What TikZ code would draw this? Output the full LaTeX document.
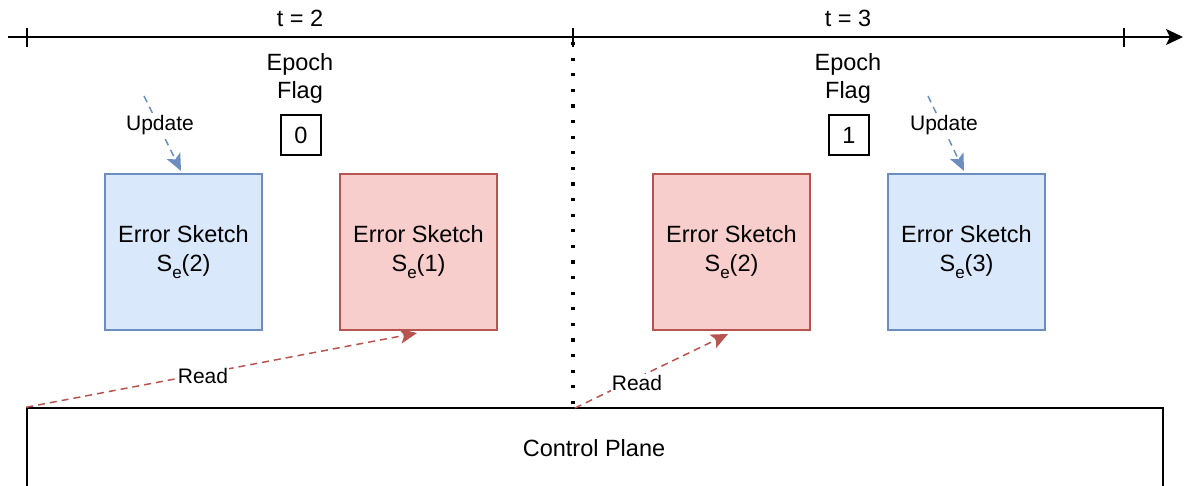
\documentclass[tikz,border=0pt]{standalone}
\usepackage{fontspec}
\setmainfont{Liberation Sans}
\usetikzlibrary{arrows.meta}
\definecolor{skBlueFill}{HTML}{DAE8FC}
\definecolor{skBlueLine}{HTML}{6C8EBF}
\definecolor{skRedFill}{HTML}{F8CECC}
\definecolor{skRedLine}{HTML}{B85450}
\newcommand{\sksub}[1]{\raisebox{-0.3em}{\fontsize{17}{17}\selectfont #1}}
\begin{document}
\begin{tikzpicture}[x=1pt,y=-1pt,
  sketch/.style={draw, line width=1.3pt, minimum width=157pt, minimum height=156pt,
    inner sep=0pt, align=center, font=\fontsize{23.5}{29}\selectfont},
  active/.style={sketch, fill=skBlueFill, draw=skBlueLine},
  frozen/.style={sketch, fill=skRedFill, draw=skRedLine},
  flagbox/.style={draw, line width=1.3pt, minimum width=40pt, minimum height=40pt,
    inner sep=0pt, font=\fontsize{23.5}{29}\selectfont},
  plain/.style={inner sep=0pt, align=center, font=\fontsize{23.5}{28}\selectfont},
  lbl/.style={fill=white, inner sep=1pt, font=\fontsize{21}{25}\selectfont},
  updarrow/.style={draw=skBlueLine, line width=1.5pt, dash pattern=on 7pt off 5pt,
    -{Stealth[length=17pt,width=15pt,inset=4pt,fill=skBlueLine]}},
  readarrow/.style={draw=skRedLine, line width=1.5pt, dash pattern=on 7pt off 5pt,
    -{Stealth[length=17pt,width=15pt,inset=4pt,fill=skRedLine]}},
  tick/.style={line width=1.3pt}
]
\clip (0,0) rectangle (1186,486);

% time axis with epoch boundaries
\coordinate (axL) at (8,37);
\coordinate (axR) at (1183,37);
\draw[line width=1.8pt, -{Stealth[length=17pt,width=16pt,inset=4pt]}] (axL) -- (axR);
\foreach \x/\nm in {27/tA,573/tB,1124/tC}{
  \coordinate (\nm) at (\x,37);
  \draw[tick] (\x,28) -- (\x,47);
}
\node[plain] (t2) at (300,18) {t = 2};
\node[plain] (t3) at (848,18) {t = 3};

% epoch separator
\coordinate (sepBot) at (573,408);
\draw[line width=3.2pt, dash pattern=on 3.2pt off 12.4pt] (tB) ++(0,5) -- (sepBot);

% epoch flags
\node[plain] (ef1) at (300,78) {Epoch\\Flag};
\node[flagbox] (f1) at (301,135) {0};
\node[plain] (ef2) at (848,78) {Epoch\\Flag};
\node[flagbox] (f2) at (849,135) {1};

% sketches
\node[active] (s1) at (183.5,252) {Error Sketch\\S\sksub{e}(2)};
\node[frozen] (s2) at (418.5,252) {Error Sketch\\S\sksub{e}(1)};
\node[frozen] (s3) at (731.5,252) {Error Sketch\\S\sksub{e}(2)};
\node[active] (s4) at (966.5,252) {Error Sketch\\S\sksub{e}(3)};

% control plane
\node[draw, line width=1.5pt, minimum width=1136pt, minimum height=84pt, inner sep=0pt] (cp) at (595,450) {};
\node[plain] (cpText) at (594,448) {Control Plane};

% update arrows into the active sketches
\coordinate (u1s) at (144,96);
\coordinate (u1e) at (181,171);
\draw[updarrow] (u1s) -- (u1e);
\node[lbl] (u1l) at (160,125) {Update};
\coordinate (u2s) at (928,96);
\coordinate (u2e) at (964,171);
\draw[updarrow] (u2s) -- (u2e);
\node[lbl] (u2l) at (944,125) {Update};

% control plane reads the frozen sketches
\draw[readarrow] (cp.north west) -- (417,333);
\node[lbl] (r1l) at (203,376) {Read};
\coordinate (r2s) at (575,408);
\draw[readarrow] (r2s) -- (728,334);
\node[lbl] (r2l) at (637,383) {Read};
\end{tikzpicture}
\end{document}
